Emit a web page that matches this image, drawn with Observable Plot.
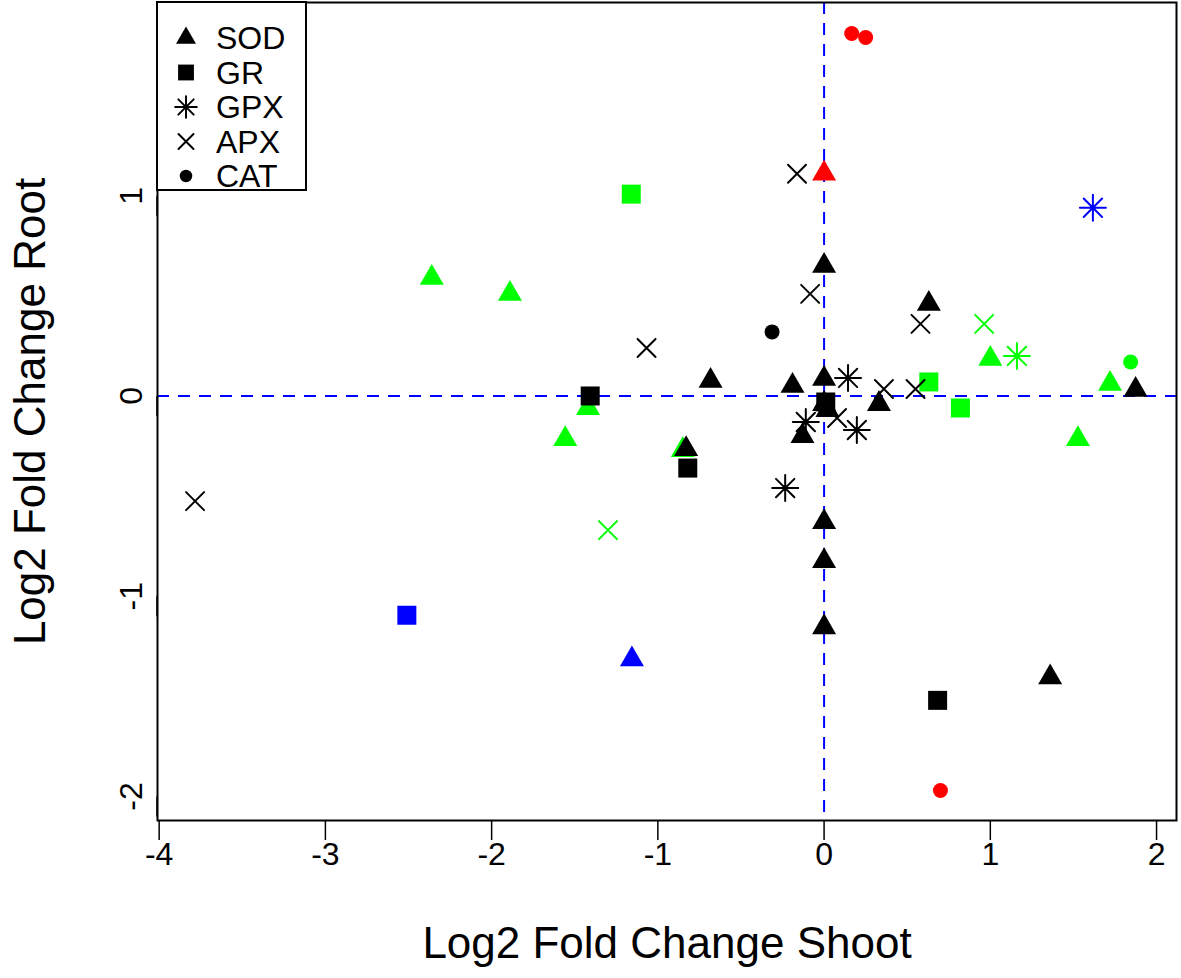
<!DOCTYPE html>
<html><head><meta charset="utf-8">
<script src="https://cdn.jsdelivr.net/npm/d3@7"></script>
<script src="https://cdn.jsdelivr.net/npm/@observablehq/plot@0.6"></script>
<style>body{margin:0;background:#fff} svg{display:block}</style>
</head><body><div id="chart"></div>
<script>
// ---- data ----
const enzymes = ["SOD", "GR", "GPX", "APX", "CAT"];
const groups = ["G1", "G2", "G3", "G4"]; // black, green, red, blue in the original
const xTicks = [-4, -3, -2, -1, 0, 1, 2];
const yTicks = [-2, -1, 0, 1];

const sodShoot = [0, 0.63, -0.683, -0.19, 0, 0, 0.02, -0.13, 0.33, 1.874, 0, 0, 0, 1.36, -0.83,
                  -2.36, -1.89, -1.557, -1.42, -0.85, 1.0, 1.72, 1.527, 0, -1.156];
const sodRoot  = [0.65, 0.46, 0.075, 0.05, 0.085, -0.04, -0.07, -0.2, -0.04, 0.03, -0.63, -0.825, -1.155, -1.405, -0.265,
                  0.59, 0.51, -0.215, -0.06, -0.27, 0.185, 0.06, -0.215, 1.11, -1.315];
const sodGroup = ["G1","G1","G1","G1","G1","G1","G1","G1","G1","G1","G1","G1","G1","G1","G1",
                  "G2","G2","G2","G2","G2","G2","G2","G2","G3","G4"];

const grShoot = [-1.407, -0.82, 0.683, 0.01, -1.16, 0.63, 0.82, -2.51];
const grRoot  = [0, -0.36, -1.52, -0.03, 1.008, 0.07, -0.06, -1.095];
const grGroup = ["G1","G1","G1","G1","G2","G2","G2","G4"];

const gpxShoot = [0.144, 0.197, -0.11, -0.234, 1.16, 1.617];
const gpxRoot  = [0.09, -0.17, -0.13, -0.46, 0.2, 0.94];
const gpxGroup = ["G1","G1","G1","G1","G2","G4"];

const apxShoot = [-3.784, -1.068, -0.084, -0.163, 0.58, 0.36, 0.55, 0.078, -1.3, 0.963];
const apxRoot  = [-0.525, 0.24, 0.51, 1.11, 0.36, 0.035, 0.035, -0.11, -0.67, 0.36];
const apxGroup = ["G1","G1","G1","G1","G1","G1","G1","G1","G2","G2"];

const catShoot = [-0.313, 1.844, 0.166, 0.25, 0.70];
const catRoot  = [0.32, 0.17, 1.81, 1.79, -1.97];
const catGroup = ["G1","G2","G3","G3","G3"];

// ---- build table ----
const sets = {SOD: [sodShoot, sodRoot, sodGroup], GR: [grShoot, grRoot, grGroup],
  GPX: [gpxShoot, gpxRoot, gpxGroup], APX: [apxShoot, apxRoot, apxGroup], CAT: [catShoot, catRoot, catGroup]};
const drawRank = {G2: 0, G3: 1, G4: 2, G1: 3};
const rows = [];
for (const e of enzymes) {
  const [xs, ys, gs] = sets[e];
  xs.forEach((v, i) => rows.push({enzyme: e, shoot: v, root: ys[i], group: gs[i]}));
}
rows.sort((a, b) => drawRank[a.group] - drawRank[b.group]);
const filled = rows.filter(d => ["SOD", "GR", "CAT"].includes(d.enzyme));
const lined = rows.filter(d => ["GPX", "APX"].includes(d.enzyme));

// ---- R-like symbols ----
function makeSymbols(s) {
  return {
    SOD: {draw(c) { const w = 12 * s, t = 13.9 * s, b = 6.9 * s; c.moveTo(0, -t); c.lineTo(w, b); c.lineTo(-w, b); c.closePath(); }},
    GR: {draw(c) { const h = 9.5 * s; c.rect(-h, -h, 2 * h, 2 * h); }},
    CAT: {draw(c) { const r = 7.5 * s; c.moveTo(r, 0); c.arc(0, 0, r, 0, 2 * Math.PI); }},
    APX: {draw(c) { const h = 9 * s; c.moveTo(-h, -h); c.lineTo(h, h); c.moveTo(-h, h); c.lineTo(h, -h); }},
    GPX: {draw(c) { const p = 13 * s, h = 9.2 * s; c.moveTo(-p, 0); c.lineTo(p, 0); c.moveTo(0, -p); c.lineTo(0, p);
                    c.moveTo(-h, -h); c.lineTo(h, h); c.moveTo(-h, h); c.lineTo(h, -h); }}
  };
}
const sym = makeSymbols(1);
const colors = ["black", "#00ff00", "red", "blue"];
const font = "'Liberation Sans', Arial, Helvetica, sans-serif";
const fmt = d => String(d);

const W = 1181, H = 978;
const chart = Plot.plot({
  width: W, height: H,
  marginLeft: 157, marginRight: 5, marginTop: 2, marginBottom: 158,
  style: {fontFamily: font, background: "white", color: "black"},
  x: {domain: [-4.01, 2.12]},
  y: {domain: [-2.12, 1.965]},
  color: {domain: groups, range: colors},
  symbol: {domain: enzymes, range: enzymes.map(e => sym[e])},
  marks: [
    Plot.ruleX([0], {stroke: "blue", strokeWidth: 2, strokeDasharray: "12,9"}),
    Plot.ruleY([0], {stroke: "blue", strokeWidth: 2, strokeDasharray: "12,9"}),
    Plot.dot(filled, {x: "shoot", y: "root", symbol: "enzyme", fill: "group", stroke: "none", r: 10}),
    Plot.dot(lined, {x: "shoot", y: "root", symbol: "enzyme", stroke: "group", fill: "none", strokeWidth: 2, strokeLinecap: "round", r: 10}),
    Plot.frame({stroke: "black", strokeWidth: 2}),
    Plot.axisX({ticks: xTicks, tickFormat: fmt, tickSize: 20, tickPadding: 2, fontSize: 32, label: null, strokeWidth: 1.5}),
    Plot.axisY({ticks: yTicks, tickFormat: fmt, tickSize: 20, tickPadding: 6, fontSize: 32, label: null, strokeWidth: 1.5,
                rotate: -90, textAnchor: "middle"}),
    Plot.text(["Log2 Fold Change Shoot"], {frameAnchor: "bottom", lineAnchor: "middle", textAnchor: "middle", dy: 123, fontSize: 44}),
    Plot.text(["Log2 Fold Change Root"], {frameAnchor: "left", lineAnchor: "middle", textAnchor: "middle", dx: -127, rotate: -90, fontSize: 44})
  ]
});
document.getElementById("chart").appendChild(chart);

// ---- legend (top-left box, as in R's legend("topleft")) ----
const svg = d3.select(chart);
const lg = svg.append("g").attr("font-family", font).attr("text-anchor", "start");
lg.append("rect").attr("x", 157).attr("y", 2).attr("width", 149).attr("height", 188)
  .attr("fill", "white").attr("stroke", "black").attr("stroke-width", 2);
const lsym = makeSymbols(1 / 1.2);
enzymes.forEach((e, i) => {
  const cy = 38 + i * 34.5;
  const p = d3.path(); lsym[e].draw(p);
  const isLine = e === "GPX" || e === "APX";
  lg.append("path").attr("d", p.toString()).attr("transform", `translate(186,${cy})`)
    .attr("fill", isLine ? "none" : "black").attr("stroke", isLine ? "black" : "none")
    .attr("stroke-width", 2).attr("stroke-linecap", "round");
  lg.append("text").attr("x", 216).attr("y", cy).attr("dy", "0.35em").attr("font-size", 32).text(e);
});
</script>
</body></html>
